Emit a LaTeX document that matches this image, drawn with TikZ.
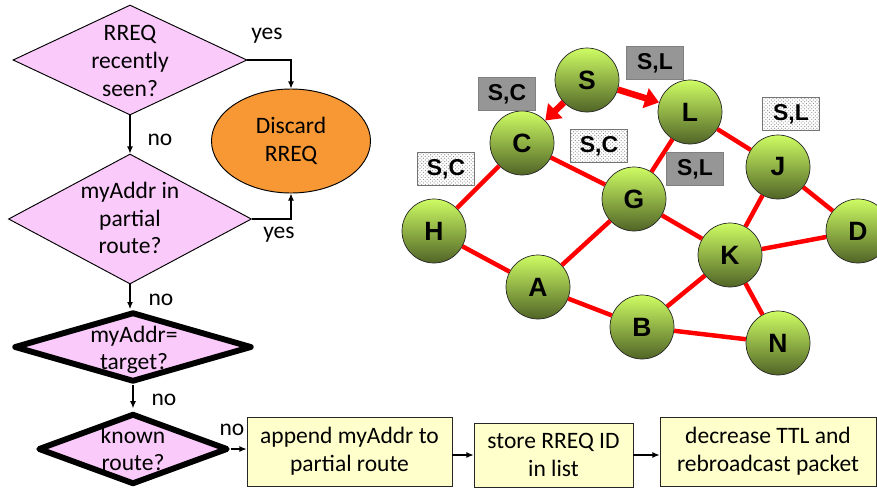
\documentclass[tikz,border=0pt]{standalone}
\usepackage{fontspec}
\setmainfont{Carlito}
\newfontfamily\graphfont{Liberation Sans}
\usetikzlibrary{shapes.geometric,arrows.meta,patterns,shadows}

\definecolor{diapink}{RGB}{250,202,250}
\definecolor{discorange}{RGB}{247,152,52}
\definecolor{boxyellow}{RGB}{255,255,204}
\definecolor{nodetop}{RGB}{206,252,100}
\definecolor{nodebottom}{RGB}{80,100,38}
\definecolor{tagdark}{RGB}{150,150,150}
\definecolor{linkred}{RGB}{255,0,0}

% one drawing unit
\def\pxu{0.85pt}

\begin{document}
\begin{tikzpicture}[x=0.85pt,y=-0.85pt,
  flowtxt/.style={font=\fontsize{20}{23.5}\selectfont, align=center, inner sep=0pt},
  decision/.style={diamond, draw=black, fill=diapink, line width=0.8pt, inner sep=0pt},
  strongdecision/.style={decision, line width=5pt, line join=round},
  endstate/.style={ellipse, draw=black, fill=discorange, line width=0.8pt, flowtxt},
  stepbox/.style={rectangle, draw=black!85, fill=boxyellow, line width=0.8pt, flowtxt,
    drop shadow={shadow xshift=1.2pt, shadow yshift=-1.2pt, fill=black!35, opacity=0.7}},
  flowarrow/.style={draw=black, line width=0.9pt, -{Latex[length=6pt,width=5pt]}},
  flowlabel/.style={flowtxt},
  netnode/.style={circle, draw=black!85, line width=0.6pt, top color=nodetop,
    bottom color=nodebottom, minimum size=64*\pxu, inner sep=0pt,
    font=\graphfont\bfseries\fontsize{22.5}{26}\selectfont},
  link/.style={draw=linkred, line width=3.8pt},
  hop/.style={draw=linkred, line width=5.5pt,
    -{Triangle[length=12pt,width=17pt]}},
  tagbox/.style={rectangle, minimum width=57*\pxu, minimum height=33*\pxu, inner sep=0pt,
    font=\graphfont\bfseries\fontsize{19.5}{22}\selectfont},
  tagdark/.style={tagbox, fill=tagdark, draw=black!50, line width=0.6pt},
  tagdotted/.style={tagbox, fill=white, draw=black!55, line width=0.6pt,
    postaction={pattern=crosshatch dots, pattern color=black!45}}
]
\useasboundingbox (0,0) rectangle (877,490);

% ---------- flowchart ----------
\node[decision, minimum width=234*\pxu, minimum height=110*\pxu] (q1) at (130,60) {};
\node[flowtxt] (q1t) at (130,61) {RREQ\\recently\\seen?};

\node[decision, minimum width=243*\pxu, minimum height=130*\pxu] (q2) at (130,219) {};
\node[flowtxt] (q2t) at (130,218) {myAddr in\\partial\\route?};

\node[strongdecision, minimum width=238*\pxu, minimum height=70*\pxu] (q3) at (133,347) {};
\node[flowtxt] (q3t) at (134,350) {myAddr=\\target?};

\node[strongdecision, minimum width=190*\pxu, minimum height=71*\pxu] (q4) at (133,449) {};
\node[flowtxt] (q4t) at (133,449) {known\\route?};

\node[endstate, minimum width=159*\pxu, minimum height=104*\pxu] (disc) at (291,141) {Discard\\RREQ};

\node[stepbox, minimum width=205*\pxu, minimum height=69*\pxu] (b1) at (349.5,451.5) {append myAddr to\\partial route};
\node[stepbox, minimum width=159*\pxu, minimum height=64*\pxu] (b2) at (553.5,455) {store RREQ ID\\in list};
\node[stepbox, minimum width=216*\pxu, minimum height=69*\pxu] (b3) at (768,451.5) {decrease TTL and\\rebroadcast packet};

\draw[flowarrow] (q1.east) -| (disc.north);
\draw[flowarrow] (q2.east) -| (disc.south);
\draw[flowarrow] (q1.south) -- (q2.north);
\draw[flowarrow] (q2.south) -- (q2.south |- q3.north);
\draw[flowarrow] (q3.south) -- ([yshift=2pt]q3.south |- q4.north);
\draw[flowarrow] (q4.east) -- (q4.east -| b1.west);
\draw[flowarrow] (b2.west -| b1.east) -- (b2.west);
\draw[flowarrow] (b2.east) -- (b2.east -| b3.west);

\node[flowlabel] (yes1) at (267,36) {yes};
\node[flowlabel] (yes2) at (279,235) {yes};
\node[flowlabel] (no1) at (160,140) {no};
\node[flowlabel] (no2) at (161,300) {no};
\node[flowlabel] (no3) at (164,400) {no};
\node[flowlabel] (no4) at (232,430) {no};

% ---------- network ----------
\node[netnode] (S) at (587,80) {S};
\node[netnode] (C) at (522,143) {C};
\node[netnode] (L) at (690,112) {L};
\node[netnode] (J) at (778,167) {J};
\node[netnode] (G) at (634,199) {G};
\node[netnode] (D) at (858,231) {D};
\node[netnode] (K) at (730,255) {K};
\node[netnode] (H) at (434,231) {H};
\node[netnode] (A) at (538,287) {A};
\node[netnode] (B) at (642,327) {B};
\node[netnode] (N) at (778,343) {N};

\draw[link] (L) -- (G);
\draw[link] (L) -- (J);
\draw[link] (C) -- (H);
\draw[link] (C) -- (G);
\draw[link] (G) -- (A);
\draw[link] (G) -- (K);
\draw[link] (H) -- (A);
\draw[link] (A) -- (B);
\draw[link] (B) -- (K);
\draw[link] (B) -- (N);
\draw[link] (K) -- (N);
\draw[link] (K) -- (J);
\draw[link] (K) -- (D);
\draw[link] (J) -- (D);
\draw[hop] (S) -- (C);
\draw[hop] (S) -- (L);

\node[tagdark] (tSC1) at (507,94) {S,C};
\node[tagdark] (tSL1) at (655,63) {S,L};
\node[tagdotted] (tSC2) at (599,146) {S,C};
\node[tagdotted] (tSC3) at (446,169) {S,C};
\node[tagdark] (tSL2) at (695,169) {S,L};
\node[tagdotted] (tSL3) at (791,114) {S,L};
\end{tikzpicture}
\end{document}
